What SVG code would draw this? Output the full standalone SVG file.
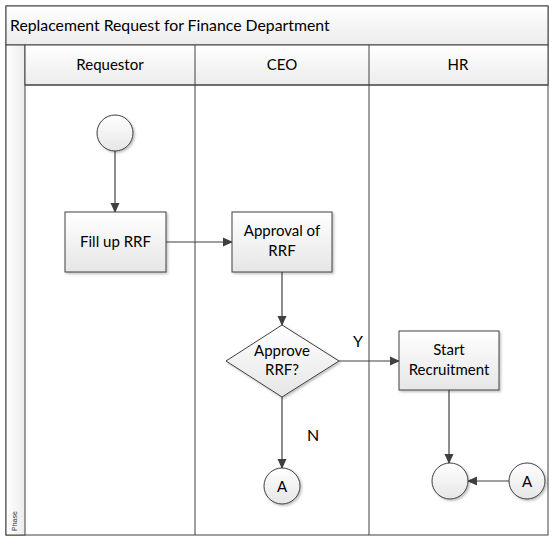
<svg xmlns="http://www.w3.org/2000/svg" width="556" height="540" viewBox="0 0 556 540">
<defs>
<linearGradient id="g" x1="0" y1="0" x2="0" y2="1"><stop offset="0" stop-color="#ffffff"/><stop offset="1" stop-color="#e6e6e6"/></linearGradient>
<linearGradient id="gh" x1="0" y1="0" x2="0" y2="1"><stop offset="0" stop-color="#ffffff"/><stop offset="1" stop-color="#ececec"/></linearGradient>
<linearGradient id="gp" x1="0" y1="0" x2="1" y2="0"><stop offset="0" stop-color="#ffffff"/><stop offset="1" stop-color="#ececec"/></linearGradient>
<marker id="arr" markerWidth="10" markerHeight="10" refX="9" refY="5" orient="auto" markerUnits="userSpaceOnUse"><path d="M0,0.5 L10,5 L0,9.5 Z" fill="#404040"/></marker>
<filter id="sh" x="-20%" y="-20%" width="150%" height="150%"><feDropShadow dx="1.5" dy="1.5" stdDeviation="1" flood-color="#000" flood-opacity="0.25"/></filter>
</defs>
<style>
.t{font-family:Lato,"Open Sans","Liberation Sans",sans-serif;font-size:15px;fill:#000;text-anchor:middle}
.lane{fill:none;stroke:#404040;stroke-width:1}
.node{fill:url(#g);stroke:#404040;stroke-width:1;filter:url(#sh)}
.c{fill:none;stroke:#404040;stroke-width:1.2;marker-end:url(#arr)}
</style>
<g id="pool">
<rect x="6" y="6" width="542" height="529" fill="#fff" stroke="#404040"/>
<rect x="6" y="6" width="542" height="39" fill="url(#gh)" stroke="#404040"/>
<text x="10" y="31" class="t" style="text-anchor:start;font-size:15.8px">Replacement Request for Finance Department</text>
<rect x="6" y="45" width="19" height="490" fill="url(#gp)" stroke="#404040"/>
<text transform="translate(17,531) rotate(-90)" style="font-family:'Liberation Sans',sans-serif;font-size:7px;fill:#333">Phase</text>
<rect x="25" y="45" width="523" height="40" fill="url(#gh)" stroke="#404040"/>
<line x1="195" y1="45" x2="195" y2="535" class="lane"/>
<line x1="369" y1="45" x2="369" y2="535" class="lane"/>
<line x1="25" y1="85" x2="548" y2="85" class="lane"/>
<text x="110" y="70" class="t">Requestor</text>
<text x="282" y="70" class="t">CEO</text>
<text x="458" y="70" class="t">HR</text>
</g>
<g id="connectors">
<line x1="115" y1="151" x2="115" y2="212" class="c"/>
<line x1="166" y1="242" x2="232" y2="242" class="c"/>
<line x1="282" y1="272" x2="282" y2="325" class="c"/>
<line x1="339" y1="361" x2="399" y2="361" class="c"/>
<line x1="282" y1="397" x2="282" y2="468" class="c"/>
<line x1="449" y1="390" x2="449" y2="463" class="c"/>
<line x1="509" y1="481" x2="468" y2="481" class="c"/>
<text x="358" y="347" class="t" style="font-size:16px">Y</text>
<text x="313" y="441" class="t" style="font-size:16px">N</text>
</g>
<g id="start"><circle cx="115" cy="133" r="18" class="node"/></g>
<g id="fill"><rect x="65" y="212" width="101" height="60" class="node"/><text x="115.5" y="247" class="t">Fill up RRF</text></g>
<g id="approval"><rect x="232" y="212" width="100" height="60" class="node"/><text x="282" y="236" class="t">Approval of</text><text x="282" y="256" class="t">RRF</text></g>
<g id="decision"><polygon points="282,325 339,361 282,397 226,361" class="node"/><text x="282" y="356" class="t">Approve</text><text x="282" y="375" class="t">RRF?</text></g>
<g id="recruit"><rect x="399" y="331" width="100" height="59" class="node"/><text x="449" y="355" class="t">Start</text><text x="449" y="375" class="t">Recruitment</text></g>
<g id="connA1"><circle cx="282" cy="486" r="18" class="node"/><text x="282" y="492" class="t">A</text></g>
<g id="end"><circle cx="450" cy="481" r="18" class="node"/></g>
<g id="connA2"><circle cx="527" cy="481" r="18" class="node"/><text x="527" y="487" class="t">A</text></g>
</svg>
